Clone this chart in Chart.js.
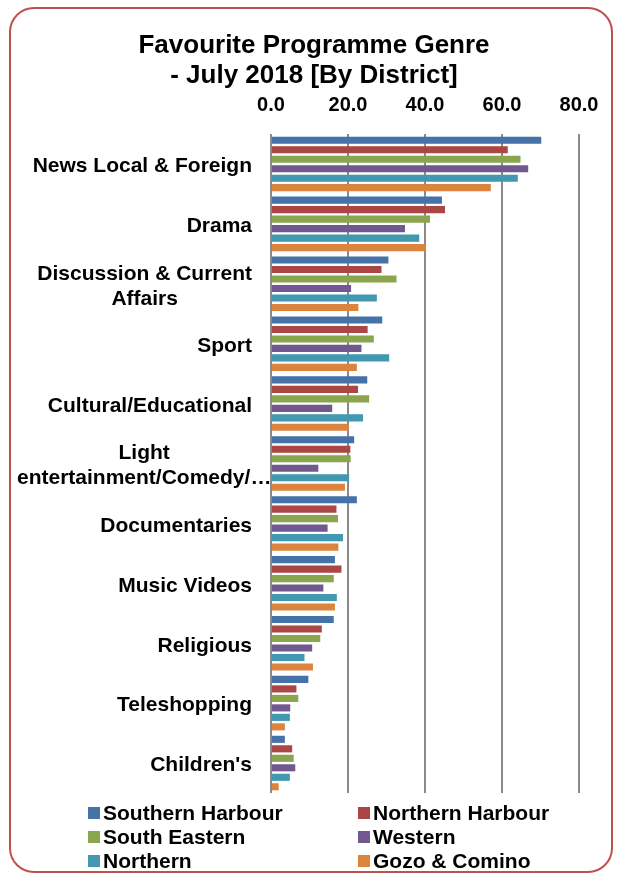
<!DOCTYPE html>
<html>
<head>
<meta charset="utf-8">
<script src="https://cdn.jsdelivr.net/npm/chart.js@4/dist/chart.umd.min.js"></script>
<style>
html,body{margin:0;padding:0;background:#fff;}
canvas{display:block;}
</style>
</head>
<body>
<canvas id="c" width="618" height="878"></canvas>
<script>
const categories = [
  'News Local & Foreign',
  'Drama',
  ['Discussion & Current', 'Affairs'],
  'Sport',
  'Cultural/Educational',
  ['Light', 'entertainment/Comedy/…'],
  'Documentaries',
  'Music Videos',
  'Religious',
  'Teleshopping',
  "Children's"
];
const seriesNames = ['Southern Harbour', 'Northern Harbour', 'South Eastern', 'Western', 'Northern', 'Gozo & Comino'];
const southernHarbour = [70.2, 44.4, 30.5, 28.9, 25.0, 21.6, 22.3, 16.6, 16.3, 9.7, 3.6];
const northernHarbour = [61.5, 45.2, 28.7, 25.1, 22.6, 20.6, 17.0, 18.3, 13.2, 6.6, 5.5];
const southEastern    = [64.8, 41.3, 32.6, 26.7, 25.5, 20.7, 17.4, 16.3, 12.8, 7.1, 5.9];
const western         = [66.8, 34.8, 20.8, 23.5, 15.9, 12.3, 14.7, 13.6, 10.7, 5.0, 6.3];
const northern        = [64.1, 38.5, 27.5, 30.7, 23.9, 20.3, 18.7, 17.1, 8.7, 4.9, 4.9];
const gozoComino      = [57.1, 40.0, 22.7, 22.3, 20.2, 19.2, 17.5, 16.6, 10.9, 3.6, 2.0];
const xTicks = [0, 20, 40, 60, 80];
const colors = ['#4572A7', '#AA4643', '#89A54E', '#71588F', '#4198AF', '#DB843D'];

const FONT = '"Liberation Sans", Arial, sans-serif';
const allSeries = [southernHarbour, northernHarbour, southEastern, western, northern, gozoComino];

const framePlugin = {
  id: 'frame',
  beforeDraw(chart) {
    const ctx = chart.ctx;
    ctx.save();
    ctx.fillStyle = '#fff';
    ctx.fillRect(0, 0, chart.width, chart.height);
    ctx.strokeStyle = '#c0504d';
    ctx.lineWidth = 2;
    ctx.beginPath();
    ctx.roundRect(10, 8, 602, 864, 24);
    ctx.stroke();
    ctx.restore();
  }
};

const yLabelPlugin = {
  id: 'ylabels',
  afterDraw(chart) {
    const ctx = chart.ctx;
    const ys = chart.scales.y;
    ctx.save();
    ctx.font = 'bold 21px ' + FONT;
    ctx.fillStyle = '#000';
    ctx.textBaseline = 'middle';
    ctx.textAlign = 'center';
    const lh = 25;
    const rightEdge = chart.chartArea.left - 19;
    categories.forEach((lab, i) => {
      const lines = Array.isArray(lab) ? lab : [lab];
      const w = Math.max(...lines.map(l => ctx.measureText(l).width));
      let left = rightEdge - w;
      if (left < 17) left = 17;
      const cx = left + w / 2;
      const cy = ys.getPixelForTick(i) + 2.5;
      const y0 = cy - (lines.length - 1) * lh / 2;
      lines.forEach((l, j) => ctx.fillText(l, cx, y0 + j * lh));
    });
    ctx.restore();
  }
};

const legendPlugin = {
  id: 'customLegend',
  afterDraw(chart) {
    const ctx = chart.ctx;
    ctx.save();
    ctx.font = 'bold 21px ' + FONT;
    ctx.textBaseline = 'middle';
    ctx.textAlign = 'left';
    const colX = [88, 358];
    const rowY = [813, 837, 861];
    chart.data.datasets.forEach((ds, i) => {
      const x = colX[i % 2];
      const y = rowY[Math.floor(i / 2)];
      ctx.fillStyle = ds.backgroundColor;
      ctx.fillRect(x, y - 6, 12, 12);
      ctx.fillStyle = '#000';
      ctx.fillText(ds.label, x + 15, y + 1);
    });
    ctx.restore();
  }
};

new Chart(document.getElementById('c'), {
  type: 'bar',
  data: {
    labels: categories,
    datasets: allSeries.map((d, i) => ({
      label: seriesNames[i],
      data: d,
      backgroundColor: colors[i],
      borderWidth: 0,
      categoryPercentage: 0.95,
      barPercentage: 0.75
    }))
  },
  options: {
    indexAxis: 'y',
    responsive: false,
    animation: false,
    devicePixelRatio: 1,
    layout: { padding: { top: 0, right: 39, bottom: 85, left: 49 } },
    plugins: {
      legend: { display: false },
      tooltip: { enabled: false },
      title: {
        display: true,
        text: ['Favourite Programme Genre', '- July 2018 [By District]'],
        color: '#000',
        font: { family: FONT, size: 26, weight: 'bold', lineHeight: 30 / 26 },
        padding: { top: 31, bottom: 0 }
      }
    },
    scales: {
      x: {
        position: 'top',
        min: 0,
        max: 80,
        afterBuildTicks(scale) { scale.ticks = xTicks.map(v => ({ value: v })); },
        afterFit(scale) { scale.height = 43; },
        ticks: {
          color: '#000',
          padding: 17,
          font: { family: FONT, size: 20, weight: 'bold' },
          callback: v => Number(v).toFixed(1)
        },
        grid: { color: '#8a8a8a', lineWidth: 2, drawTicks: false },
        border: { display: false }
      },
      y: {
        afterFit(scale) { scale.width = 222; },
        ticks: { display: false },
        grid: { display: false, drawTicks: false },
        border: { display: false }
      }
    }
  },
  plugins: [framePlugin, yLabelPlugin, legendPlugin]
});
</script>
</body>
</html>
